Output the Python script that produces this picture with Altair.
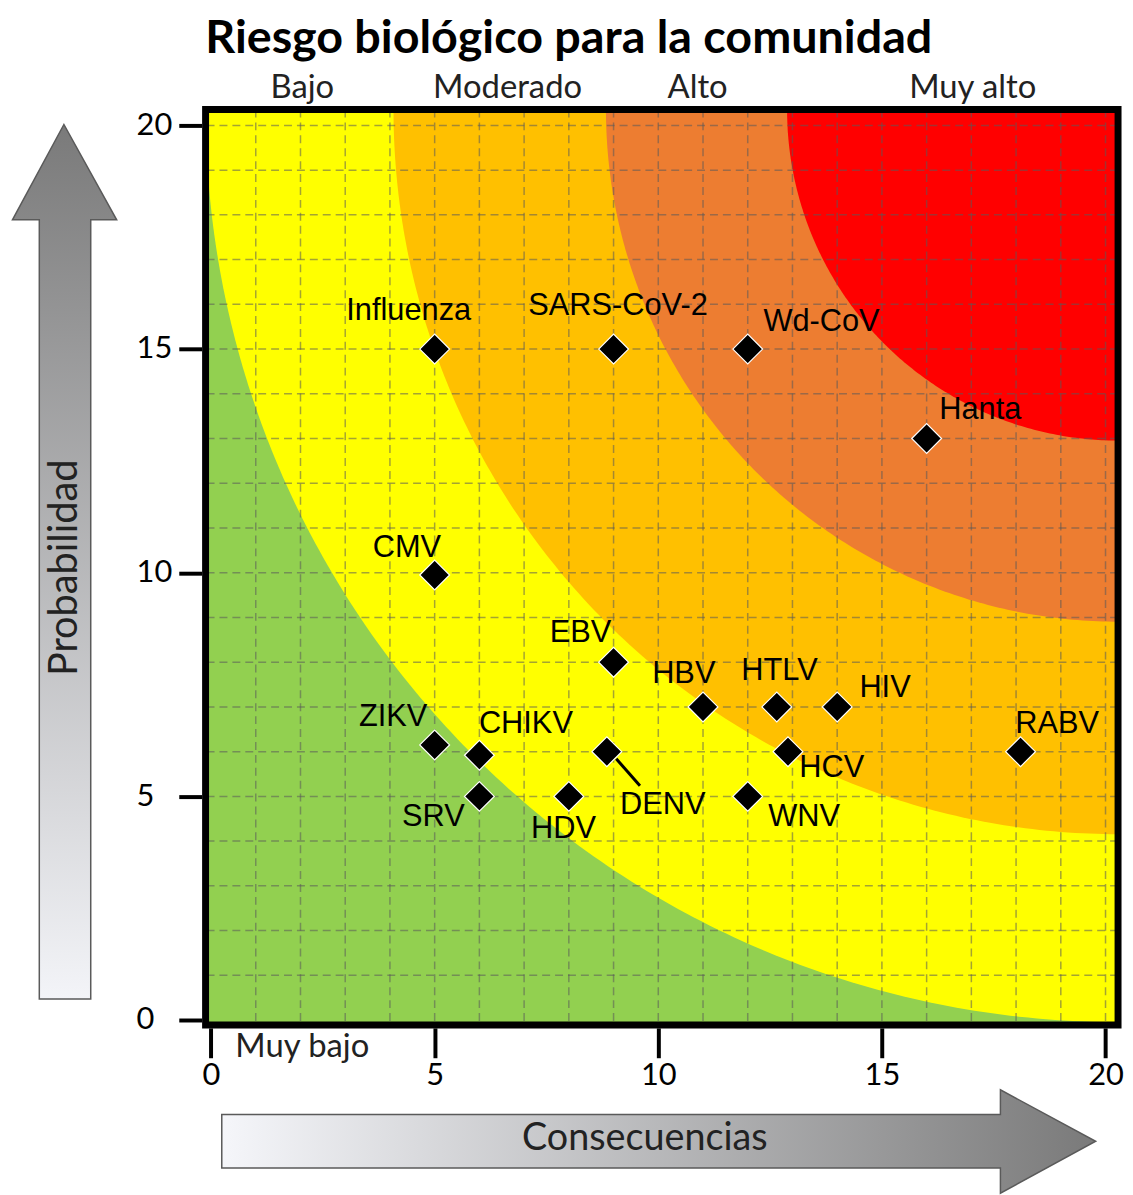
import altair as alt
import pandas as pd
import numpy as np

# ---- data ----
NAMES = ["Influenza", "SARS-CoV-2", "Wd-CoV", "Hanta", "CMV", "EBV", "HBV", "HTLV", "HIV",
         "RABV", "ZIKV", "CHIKV", "DENV", "SRV", "HDV", "WNV", "HCV"]
CONSEQ = [5, 9, 12, 16, 5, 9, 11, 12.65, 14, 18.1, 5, 6, 8.85, 6, 8, 12, 12.9]
PROB = [15, 15, 15, 13, 9.95, 8, 7, 7, 7, 6, 6.15, 5.92, 6, 5, 5, 5, 6]
LABEL_X = [4.42, 9.10, 13.65, 17.20, 4.38, 8.26, 10.57, 12.71, 15.07, 18.92, 4.07, 7.04,
           10.10, 4.97, 7.88, 13.26, 13.88]
LABEL_Y = [15.84, 15.96, 15.6, 13.64, 10.56, 8.64, 7.73, 7.8, 7.42, 6.62, 6.78, 6.62,
           4.8, 4.53, 4.27, 4.53, 5.64]

ZONE_NAMES = ["Bajo", "Moderado", "Alto", "Muy alto"]
ZONE_LABEL_X = [2.04, 6.63, 10.88, 17.03]
ZONE_COLORS = ["#FFFF00", "#FFC000", "#ED7D31", "#FF0000"]
ZONE_RADII = [20.4, 16.2, 11.45, 7.4]
GREEN = "#92D050"

TICKS = [0, 5, 10, 15, 20]
GRID_VALUES = list(range(1, 21))

XMIN, XMAX = -0.122, 20.28
YMIN, YMAX = -0.11, 20.355
W, H = 919, 922

xs = alt.Scale(domain=[XMIN, XMAX], nice=False, zero=False)
ys = alt.Scale(domain=[YMIN, YMAX], nice=False, zero=False)

x_axis = alt.Axis(values=TICKS, orient="bottom", offset=3, tickSize=30, tickWidth=4,
                  tickColor="black", domain=False, grid=False, labelFont="Lato",
                  labelFontSize=31, labelColor="black", labelPadding=3, title=None,
                  labelFlush=True)
y_axis = alt.Axis(values=TICKS, orient="left", offset=4, tickSize=23, tickWidth=4,
                  tickColor="black", domain=False, grid=False, labelFont="Lato",
                  labelFontSize=31, labelColor="black", labelPadding=43, labelAlign="left",
                  labelBaseline="middle", title=None, labelFlush=False)


def X(f, **kw):
    return alt.X(f, type="quantitative", scale=xs, axis=x_axis, **kw)


def Y(f, **kw):
    return alt.Y(f, type="quantitative", scale=ys, axis=y_axis, **kw)


frame_df = pd.DataFrame({"x0": [XMIN], "x1": [XMAX], "y0": [YMIN], "y1": [YMAX]})

background = alt.Chart(frame_df).mark_rect(color=GREEN).encode(
    x=X("x0"), x2="x1", y=Y("y0"), y2="y1")

zone_layers = []
for r, col in zip(ZONE_RADII, ZONE_COLORS):
    th = np.linspace(0, np.pi / 2, 160)
    zdf = pd.DataFrame({"x": XMAX - r * np.cos(th), "y": YMAX - r * np.sin(th),
                        "top": YMAX})
    zone_layers.append(alt.Chart(zdf).mark_area(color=col, clip=True, opacity=1).encode(
        x=X("x"), y=Y("y"), y2="top"))

grid_df = pd.DataFrame({"v": GRID_VALUES})
grid_style = dict(color="#5a5a5a", opacity=0.55, strokeDash=[8, 5], strokeWidth=1.5)
grid_x = alt.Chart(grid_df).mark_rule(**grid_style).encode(x=X("v"))
grid_y = alt.Chart(grid_df).mark_rule(**grid_style).encode(y=Y("v"))

leader_df = pd.DataFrame({"x": [9.06], "y": [5.84], "x2": [9.59], "y2": [5.24]})
leader = alt.Chart(leader_df).mark_rule(color="black", strokeWidth=3).encode(
    x=X("x"), y=Y("y"), x2="x2", y2="y2")

pts_df = pd.DataFrame({"name": NAMES, "c": CONSEQ, "p": PROB, "lx": LABEL_X, "ly": LABEL_Y})

points = alt.Chart(pts_df).mark_point(shape="diamond", filled=True, fill="black",
                                      stroke="white", strokeWidth=1.2, size=900,
                                      opacity=1).encode(
    x=X("c"), y=Y("p"))

labels = alt.Chart(pts_df).mark_text(font="Liberation Sans", fontSize=31, color="black",
                                     align="center", baseline="middle").encode(
    x=X("lx"), y=Y("ly"), text="name:N")

zone_df = pd.DataFrame({"t": ZONE_NAMES + ["Muy bajo"], "x": ZONE_LABEL_X + [2.04],
                        "y": [20.84] * 4 + [-0.6]})
zone_text = alt.Chart(zone_df).mark_text(font="Lato", fontSize=33, color="#222222",
                                         align="center", baseline="middle").encode(
    x=X("x"), y=Y("y"), text="t:N")

# arrows
h_arrow_df = pd.DataFrame({"x": [0.24, 17.65, 17.6501, 19.78],
                           "y": [-2.11, -2.11, -1.56, -2.71],
                           "y2": [-3.31, -3.31, -3.87, -2.71]})
h_grad = alt.Gradient(gradient="linear", x1=0, x2=1, y1=0, y2=0,
                      stops=[alt.GradientStop(color="#f5f6fa", offset=0),
                             alt.GradientStop(color="#7a7a7a", offset=1)])
h_arrow = alt.Chart(h_arrow_df).mark_area(fill=h_grad, stroke="#5a5a5a", strokeWidth=1.5,
                                          opacity=1).encode(
    x=X("x"), y=Y("y"), y2="y2")

v_arrow_df = pd.DataFrame({"y": [0.47, 17.89, 17.8901, 20.02],
                           "x": [-3.84, -3.84, -4.44, -3.29],
                           "x2": [-2.69, -2.69, -2.11, -3.29]})
v_grad = alt.Gradient(gradient="linear", x1=0, x2=0, y1=1, y2=0,
                      stops=[alt.GradientStop(color="#f3f4f8", offset=0),
                             alt.GradientStop(color="#7a7a7a", offset=1)])
v_arrow = alt.Chart(v_arrow_df).mark_area(orient="horizontal", fill=v_grad,
                                          stroke="#5a5a5a", strokeWidth=1.5,
                                          opacity=1).encode(
    y=Y("y"), x=X("x"), x2="x2")

arrow_text_df = pd.DataFrame({"t": ["Consecuencias"], "x": [9.70], "y": [-2.67]})
arrow_text = alt.Chart(arrow_text_df).mark_text(font="Lato", fontSize=38, color="#222222",
                                                align="center", baseline="middle").encode(
    x=X("x"), y=Y("y"), text="t:N")
v_text_df = pd.DataFrame({"t": ["Probabilidad"], "x": [-3.26], "y": [10.11]})
v_text = alt.Chart(v_text_df).mark_text(font="Lato", fontSize=40, color="#222222",
                                        align="center", baseline="middle",
                                        angle=270).encode(
    x=X("x"), y=Y("y"), text="t:N")

title_df = pd.DataFrame({"t": ["Riesgo biológico para la comunidad"], "x": [-0.13],
                         "y": [21.93]})
title = alt.Chart(title_df).mark_text(font="Lato", fontSize=47, fontWeight="bold",
                                      color="black", align="left",
                                      baseline="middle").encode(
    x=X("x"), y=Y("y"), text="t:N")

frame = alt.Chart(frame_df).mark_rect(fillOpacity=0, stroke="black", strokeWidth=7).encode(
    x=X("x0"), x2="x1", y=Y("y0"), y2="y1")

chart = alt.layer(
    background, *zone_layers, grid_x, grid_y, leader, points, labels, zone_text,
    h_arrow, v_arrow, arrow_text, v_text, title, frame
).properties(
    width=W, height=H,
    autosize=alt.AutoSizeParams(type="none"),
    padding={"left": 199, "top": 98, "right": 7, "bottom": 167},
).configure_view(stroke=None)

chart.save("out.html", embed_options={"renderer": "svg", "actions": False})
